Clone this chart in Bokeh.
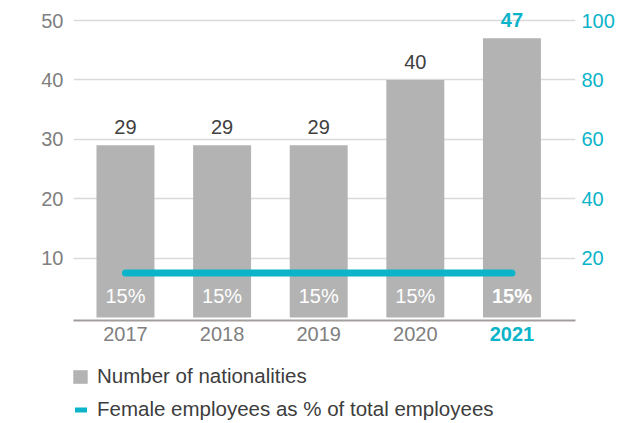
from bokeh.plotting import figure
from bokeh.layouts import column
from bokeh.models import Range1d, LinearAxis, FixedTicker, Legend, LegendItem
from bokeh.embed import file_html
from bokeh.resources import INLINE
from bokeh.core.properties import value

# ---- data ----
years = ["2017", "2018", "2019", "2020", "2021"]
nationalities = [29, 29, 29, 40, 47]
female_share = [15, 15, 15, 15, 15]
left_ticks = [10, 20, 30, 40, 50]
right_ticks = [20, 40, 60, 80, 100]
legend_labels = ["Number of nationalities", "Female employees as % of total employees"]

FONT = "Liberation Sans"
BAR = "#b3b3b3"
CYAN = "#0bb4c9"
AXIS_GREY = "#7f7f7f"
DARK = "#404040"

xs = list(range(len(years)))
last = len(years) - 1

p = figure(width=618, height=355, output_backend="svg", toolbar_location=None,
           x_range=Range1d(-0.538, 4.658), y_range=Range1d(-0.505, 53.37),
           min_border_left=73, min_border_right=43, min_border_top=0,
           min_border_bottom=35)
p.outline_line_color = None
p.xgrid.visible = False
p.ygrid.ticker = FixedTicker(ticks=left_ticks)
p.ygrid.grid_line_color = "#dadada"
p.ygrid.grid_line_width = 1.3


def style_axis(ax, color, standoff, bold=False):
    ax.axis_line_color = None
    ax.major_tick_line_color = None
    ax.minor_tick_line_color = None
    ax.major_tick_out = 0
    ax.major_tick_in = 0
    ax.minor_tick_out = 0
    ax.major_label_standoff = standoff
    ax.major_label_text_font = FONT
    ax.major_label_text_font_size = "20px"
    ax.major_label_text_color = color
    if bold:
        ax.major_label_text_font_style = "bold"


# left axis
ya = p.yaxis[0]
ya.ticker = FixedTicker(ticks=left_ticks)
style_axis(ya, AXIS_GREY, 10)

# bottom axis (2017-2020)
xa = p.xaxis[0]
xa.ticker = FixedTicker(ticks=xs[:last])
xa.major_label_overrides = {i: years[i] for i in xs}
style_axis(xa, AXIS_GREY, 6)
xa.axis_line_color = "#a39d9e"
xa.axis_line_width = 2

# highlighted 2021 tick label, pulled up onto the same row
xa2 = LinearAxis(ticker=FixedTicker(ticks=[xs[last]]),
                 major_label_overrides={xs[last]: years[last]})
style_axis(xa2, CYAN, -17, bold=True)
p.add_layout(xa2, "below")

# right axis
p.extra_y_ranges = {"pct": Range1d(-1.01, 106.74)}
ra = LinearAxis(y_range_name="pct", ticker=FixedTicker(ticks=right_ticks))
style_axis(ra, CYAN, 6)
p.add_layout(ra, "right")

# bars
p.vbar(x=xs, top=nationalities, width=0.6, fill_color=BAR, line_color=None)

# line
p.line(x=xs, y=female_share, y_range_name="pct", line_color=CYAN,
       line_width=7, line_cap="round")

# value labels
p.text(x=xs[:last], y=nationalities[:last], text=[str(v) for v in nationalities[:last]],
       text_align="center", text_baseline="middle", y_offset=-18,
       text_font=value(FONT), text_font_size="20px", text_color=DARK)
p.text(x=xs[last:], y=nationalities[last:], text=[str(v) for v in nationalities[last:]],
       text_align="center", text_baseline="middle", y_offset=-18,
       text_font=value(FONT), text_font_size="20px", text_font_style="bold",
       text_color=CYAN)

# percent labels inside bars
p.text(x=xs[:last], y=[0] * last, text=[f"{v}%" for v in female_share[:last]],
       text_align="center", text_baseline="middle", y_offset=-22,
       text_font=value(FONT), text_font_size="20px", text_color="white")
p.text(x=xs[last:], y=[0], text=[f"{v}%" for v in female_share[last:]],
       text_align="center", text_baseline="middle", y_offset=-22,
       text_font=value(FONT), text_font_size="20px", text_font_style="bold",
       text_color="white")

# ---- legend strip ----
pl = figure(width=618, height=68, output_backend="svg", toolbar_location=None,
            x_range=Range1d(-0.538, 4.658), y_range=Range1d(0, 60), min_border=0)
pl.outline_line_color = None
pl.axis.visible = False
pl.grid.visible = False
# hidden twins of the series, used only for the legend swatches
leg_bar = pl.vbar(x=xs, top=nationalities, width=0.6, fill_color=BAR,
                  line_color=None, visible=False)
leg_line = pl.line(x=xs, y=female_share, line_color=CYAN, line_width=5,
                   line_cap="round", visible=False)

common = dict(padding=0, margin=0, border_line_color=None, background_fill_alpha=0,
              label_text_font=FONT, label_text_font_size="20.5px",
              label_text_color="#3d3d3d", spacing=0, glyph_height=17, label_height=17)
leg1 = Legend(items=[LegendItem(label=legend_labels[0], renderers=[leg_bar])],
              location=(-2, 35), glyph_width=18, label_standoff=8, **common)
leg2 = Legend(items=[LegendItem(label=legend_labels[1], renderers=[leg_line])],
              location=(2, 2), glyph_width=12, label_standoff=10, **common)
pl.add_layout(leg1)
pl.add_layout(leg2)

layout = column(p, pl, spacing=0)
open("out.html", "w").write(file_html(layout, INLINE))
